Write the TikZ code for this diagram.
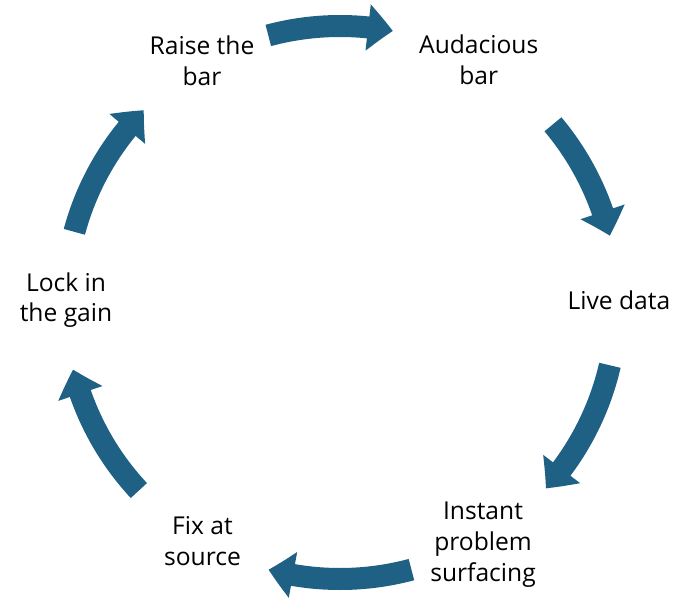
\documentclass[tikz,border=0pt]{standalone}
\usepackage{fontspec}
\setmainfont{Open Sans}
\usetikzlibrary{arrows.meta,bending}
\definecolor{CycleBlue}{RGB}{31,97,133}
\tikzset{
  stage/.style={align=center,font=\fontsize{14}{17.5}\selectfont,inner sep=1pt},
  cyc/.style={CycleBlue,line width=0.44cm,
              -{Triangle[width=0.9cm,length=0.5cm,bend]}},
}

\begin{document}
\begin{tikzpicture}
  \useasboundingbox (-6.8,-6.08) rectangle (6.96,6.06);
  % stages of the cycle
  \node[stage] (raise)   at (119.7:5.57) {Raise the\\bar};
  \node[stage] (auda)    at (60.3:5.6)   {Audacious\\bar};
  \node[stage] (live)    at (0.6:5.58)   {Live data};
  \node[stage] (instant) at (-59.4:5.62) {Instant\\problem\\surfacing};
  \node[stage] (fix)     at (-120:5.5)   {Fix at\\source};
  \node[stage] (lock)    at (179.4:5.48) {Lock in\\the gain};
  % arrow tails
  \coordinate (t1) at (105:5.54);
  \coordinate (t2) at (40:5.56);
  \coordinate (t3) at (-13:5.54);
  \coordinate (t4) at (-75:5.52);
  \coordinate (t5) at (-137:5.5);
  \coordinate (t6) at (165:5.5);
  % arrows between stages
  \draw[cyc] (t1) arc[start angle=105, end angle=79, radius=5.54cm];
  \draw[cyc] (t2) arc[start angle=40, end angle=14, radius=5.56cm];
  \draw[cyc] (t3) arc[start angle=-13, end angle=-42, radius=5.54cm];
  \draw[cyc] (t4) arc[start angle=-75, end angle=-105, radius=5.52cm];
  \draw[cyc] (t5) arc[start angle=-137, end angle=-166, radius=5.5cm];
  \draw[cyc] (t6) arc[start angle=165, end angle=135.5, radius=5.5cm];
\end{tikzpicture}
\end{document}
